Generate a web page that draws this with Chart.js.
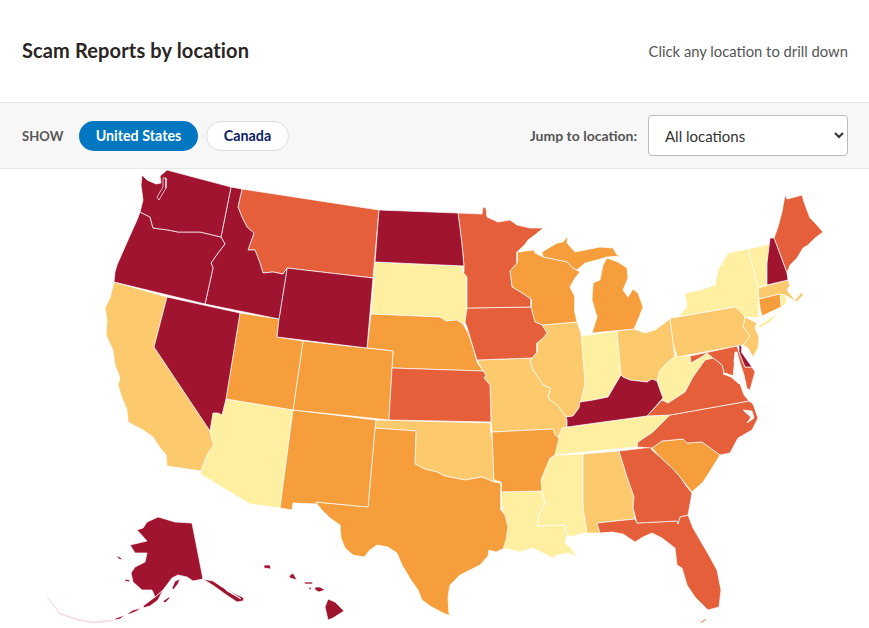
<!DOCTYPE html>
<html>
<head>
<meta charset="utf-8">
<title>Scam Reports by location</title>
<script src="https://cdn.jsdelivr.net/npm/chart.js@4"></script>
<style>
html, body { margin: 0; padding: 0; background: #fff; overflow: hidden; }
body { width: 869px; height: 628px; position: relative; font-family: Lato, "Open Sans", sans-serif; }
.title { position: absolute; left: 22px; top: 38px; font-size: 20px; line-height: 24px; font-weight: 700; letter-spacing: .13px; color: #2b2523; }
.hint { position: absolute; right: 21px; top: 41px; font-size: 14.8px; line-height: 20px; color: #555; }
.band { position: absolute; left: 0; top: 102px; width: 869px; height: 65px; background: #f7f7f7; border-top: 1px solid #e8e8e8; border-bottom: 1px solid #e8e8e8; }
.show { position: absolute; left: 22px; top: 128px; font-size: 13px; line-height: 16px; font-weight: 700; color: #555; letter-spacing: .1px; }
.pill { position: absolute; top: 121px; height: 30px; line-height: 30px; border-radius: 15px; text-align: center; font-size: 14.3px; font-weight: 700; box-sizing: border-box; }
.pill.us { left: 79px; width: 119px; background: #0077c0; color: #fff; }
.pill.ca { left: 206px; width: 83px; background: #fff; color: #0b2265; border: 1px solid #ddd; line-height: 28px; }
.jump { position: absolute; right: 232px; top: 128px; font-size: 14px; line-height: 16px; font-weight: 700; color: #555; }
select { position: absolute; left: 648px; top: 115px; width: 200px; height: 41px; padding-left: 12px; font-family: inherit; font-size: 15px; color: #333; background: #fff; border: 1px solid #bbb; border-radius: 4px; }
#mapBox { position: absolute; left: 0; top: 169px; width: 869px; height: 459px; }
</style>
</head>
<body>
<div class="title">Scam Reports by location</div>
<div class="hint">Click any location to drill down</div>
<div class="band"></div>
<div class="show">SHOW</div>
<div class="pill us">United States</div>
<div class="pill ca">Canada</div>
<div class="jump">Jump to location:</div>
<select><option>All locations</option></select>
<div id="mapBox"><canvas id="map"></canvas></div>
<script>
// outlines, in map units
const WA = [[142,175],[147,180],[156,184],[161,183],[160,176],[167,170],[231,187],[221,237],[200,232],[178,232],[168,230],[153,228],[150,217],[140,212],[143,200],[141,185]];
const WAsound = [[157,197],[163,187],[163,178],[166,178],[166,188],[159,200]];
const OR = [[140,212],[150,217],[153,228],[168,230],[178,232],[200,232],[221,237],[225,244],[218,253],[211,263],[213,268],[205,304],[114,282],[115,272],[117,265],[128,240],[137,220]];
const ID = [[231,187],[242,189],[238,207],[242,217],[247,227],[254,233],[248,250],[255,250],[260,263],[263,273],[273,272],[283,274],[285,271],[287,269],[279,319],[205,304],[213,268],[211,263],[218,253],[225,244],[221,237]];
const MT = [[242,189],[379,210],[373,278],[287,268],[285,271],[283,274],[273,272],[263,273],[260,263],[255,250],[248,250],[254,233],[247,227],[242,217],[238,207]];
const WY = [[287,268],[373,278],[367,348],[277,337],[279,319]];
const NV = [[167,297],[240,313],[226,399],[222,415],[218,413],[213,413],[210,431],[154,347]];
const CA = [[114,282],[167,297],[154,347],[210,431],[212,440],[214,445],[208,453],[203,465],[201,471],[167,466],[166,455],[158,445],[153,437],[143,430],[128,422],[127,410],[122,398],[118,385],[120,378],[115,365],[113,350],[106,335],[107,320],[105,308],[110,298]];
const AZ = [[226,399],[293,410],[280,508],[250,504],[200,474],[201,471],[203,465],[208,453],[214,445],[212,440],[210,431],[213,413],[218,413],[222,415]];
const UT = [[240,313],[279,319],[277,337],[303,341],[293,410],[226,399]];
const CO = [[303,341],[393,351],[389,420],[293,410]];
const NM = [[293,410],[376,420],[375,428],[368,507],[316,502],[317,504],[293,503],[292,510],[280,508]];
const TX = [[375,428],[416,431],[415,464],[425,469],[437,472],[445,476],[455,478],[465,480],[482,477],[494,482],[501,483],[501,510],[505,515],[508,527],[506,540],[503,549],[496,552],[489,550],[488,556],[480,565],[460,575],[450,585],[448,597],[449,614],[452,616],[445,614],[430,606],[422,600],[418,590],[411,580],[402,565],[397,553],[388,547],[377,545],[370,550],[364,557],[353,555],[345,548],[341,538],[340,525],[330,518],[322,510],[317,504],[316,502],[368,507]];
const OK = [[376,420],[491,423],[491,432],[493,445],[494,482],[482,477],[465,480],[455,478],[445,476],[437,472],[425,469],[415,464],[416,431],[375,428]];
const KS = [[392,368],[483,371],[486,375],[484,378],[490,385],[491,422],[389,420]];
const NE = [[371,314],[440,317],[446,321],[457,320],[463,324],[468,333],[473,347],[477,362],[483,371],[392,368],[393,351],[367,348]];
const SD = [[375,262],[464,266],[463,272],[467,277],[467,308],[465,322],[463,324],[457,320],[446,321],[440,317],[371,314]];
const ND = [[379,210],[458,213],[460,228],[462,245],[464,266],[375,262]];
const MN = [[458,213],[482,214],[483,207],[486,208],[487,217],[498,222],[510,220],[517,225],[530,228],[543,228],[532,238],[517,252],[517,263],[510,271],[512,287],[522,293],[531,299],[531,307],[467,308],[467,277],[463,272],[464,266],[462,245],[460,228]];
const IA = [[467,308],[531,307],[533,315],[535,322],[542,325],[547,333],[543,338],[537,343],[537,352],[532,358],[477,360],[473,347],[467,327],[465,322]];
const WI = [[517,252],[534,250],[535,253],[543,257],[567,262],[573,268],[580,272],[575,278],[570,287],[575,297],[575,313],[577,322],[542,325],[535,322],[533,315],[531,307],[531,299],[522,293],[512,287],[510,271],[517,263]];
const MIupper = [[542,252],[557,243],[563,242],[568,236],[567,243],[575,252],[600,247],[613,248],[617,255],[622,256],[607,257],[597,260],[585,263],[577,270],[573,268],[567,262],[543,257]];
const MIlower = [[607,258],[618,262],[627,268],[628,278],[623,290],[628,297],[633,289],[638,293],[643,307],[640,315],[634,329],[592,333],[597,317],[592,300],[593,283],[600,280],[603,265]];
const IL = [[542,325],[577,322],[581,333],[585,383],[582,397],[579,408],[573,416],[566,417],[557,405],[548,398],[550,388],[543,385],[533,370],[530,362],[532,358],[537,352],[537,343],[543,338],[547,333]];
const IN = [[581,336],[617,331],[621,375],[615,385],[608,397],[593,400],[580,402],[582,397],[585,383]];
const OH = [[617,331],[634,329],[645,333],[655,330],[670,319],[673,343],[675,356],[668,362],[660,370],[657,381],[647,382],[630,380],[623,377],[621,375]];
const KY = [[621,375],[623,377],[630,380],[647,382],[652,379],[657,381],[660,390],[663,398],[647,416],[567,427],[567,420],[566,417],[573,416],[579,408],[580,402],[593,400],[608,397],[615,385]];
const WV = [[670,319],[673,343],[675,356],[690,356],[691,363],[703,356],[707,353],[713,358],[705,360],[693,377],[685,392],[668,403],[662,400],[663,398],[657,381],[660,370],[668,362],[675,356]];
const PA = [[670,318],[678,317],[735,307],[742,313],[745,317],[743,327],[750,336],[743,345],[677,357],[673,343]];
const NY = [[678,317],[687,307],[685,293],[700,290],[715,285],[718,270],[728,253],[748,249],[758,287],[759,318],[745,317],[735,307]];
const NYisland = [[758,326],[778,313],[770,322],[760,328]];
const NJ = [[745,317],[757,323],[755,328],[759,337],[758,348],[753,357],[748,348],[743,345],[750,336],[743,327]];
const VT = [[748,249],[770,244],[767,263],[767,285],[758,288]];
const NH = [[770,238],[774,238],[787,273],[788,280],[767,285],[767,263]];
const ME = [[785,195],[787,199],[795,197],[802,195],[804,202],[810,218],[815,223],[823,232],[815,238],[808,245],[803,248],[797,258],[790,265],[787,273],[774,238],[778,227],[782,212]];
const MA = [[758,288],[788,280],[790,285],[787,290],[795,300],[802,292],[803,295],[797,302],[785,295],[780,294],[759,299]];
const CT = [[759,299],[780,294],[781,307],[762,316],[760,308]];
const RI = [[780,294],[785,295],[787,303],[781,307]];
const DE = [[739,344],[742,347],[742,353],[752,367],[745,367],[739,352]];
const MD = [[690,356],[737,346],[739,352],[745,367],[752,367],[755,372],[750,390],[746,388],[741,372],[735,358],[733,376],[724,373],[722,365],[713,358],[707,353],[703,356],[691,363]];
const VA = [[647,416],[662,400],[668,403],[685,392],[693,377],[705,360],[713,358],[722,365],[724,373],[733,376],[740,384],[744,395],[749,401],[670,415]];
const NC = [[670,415],[749,401],[753,404],[758,418],[752,430],[738,438],[730,453],[720,455],[702,442],[687,443],[683,439],[662,441],[652,448],[637,447],[638,442],[653,432]];
const TN = [[567,427],[647,416],[670,415],[653,432],[638,442],[637,447],[555,455],[558,438],[562,428]];
const GA = [[619,451],[652,447],[652,450],[660,457],[672,468],[680,477],[687,487],[692,493],[688,515],[680,517],[678,524],[677,521],[637,523],[633,508],[634,497],[627,477]];
const SC = [[652,448],[662,441],[683,439],[687,443],[702,442],[720,455],[712,468],[703,482],[692,492],[680,477],[672,468],[660,457]];
const AL = [[583,454],[619,451],[627,477],[634,497],[633,508],[635,519],[597,523],[600,533],[590,533],[587,533],[583,507]];
const MS = [[555,455],[583,454],[583,507],[587,533],[580,534],[570,537],[567,535],[565,525],[537,526],[540,513],[545,503],[542,491],[541,480],[545,470],[550,458]];
const LA = [[500,492],[542,491],[545,503],[540,513],[537,526],[565,525],[567,535],[565,543],[570,547],[577,557],[568,553],[558,555],[552,558],[543,553],[532,548],[520,552],[507,549],[503,548],[507,533],[507,525],[503,512],[501,502]];
const AR = [[492,432],[553,429],[555,435],[559,438],[555,455],[550,458],[545,470],[541,480],[542,491],[500,492],[501,482],[494,480]];
const MO = [[477,360],[532,358],[530,362],[533,370],[543,385],[550,388],[548,398],[557,405],[566,417],[567,420],[567,427],[562,428],[558,438],[555,435],[553,429],[492,432],[491,422],[490,385],[484,378],[486,375],[483,371]];
const FL = [[597,523],[635,519],[637,523],[677,521],[678,524],[680,517],[688,515],[693,528],[707,552],[717,570],[721,590],[719,607],[708,610],[695,597],[687,585],[682,568],[677,565],[675,548],[662,538],[652,533],[643,537],[635,542],[623,534],[612,532],[600,533]];
const FLkeys = [[700,622],[707,618],[705,621],[701,623]];
const AKmain = [[192,523],[203,579],[193,581],[187,577],[178,575],[172,578],[163,590],[155,597],[152,590],[142,590],[133,582],[131,573],[135,567],[145,562],[147,553],[135,553],[130,545],[147,541],[137,530],[143,528],[147,522],[158,517],[165,519],[175,522]];
const AKkenai = [[172,588],[175,581],[180,579],[178,584],[173,590]];
const AKkodiak = [[163,601],[169,597],[170,598],[165,603]];
const AKpeninsula = [[163,590],[155,597],[143,606],[143,608],[150,606],[158,600]];
const AKchain1 = [[141,608],[133,610],[127,614],[130,614],[137,611]];
const AKchain2 = [[125,615],[116,618],[114,620],[120,619]];
const AKpanhandle = [[203,579],[213,581],[222,587],[232,592],[244,598],[243,601],[237,602],[225,594],[214,586]];
const AKisland = [[116,556],[120,557],[123,560],[119,559]];
const AKisland2 = [[125,579],[130,580],[129,582],[125,581]];
const aleutianFaint = [[47,597],[60,613],[77,619],[93,622],[112,620],[112,621],[93,623],[77,620],[60,614]];
const HIbig = [[328,599],[335,602],[344,611],[333,618],[328,620],[325,607]];
const HImaui = [[315,587],[320,587],[325,590],[319,592],[315,590]];
const HImolokai = [[304,582],[313,582],[313,584],[305,584]];
const HIlanai = [[308,587],[312,588],[310,590]];
const HIoahu = [[293,573],[297,580],[290,578],[289,576]];
const HIkauai = [[264,565],[270,565],[271,569],[264,568]];

const chesapeakeBay = [[735,352],[734,362],[737,370],[741,380],[745,392],[747,389],[744,375],[740,363],[737,352]];
const potomac = [[724,373],[733,376],[740,383],[739,384],[731,377],[723,374]];
const pamlico = [[743,410],[752,411],[754,418],[747,423],[751,417],[745,412]];
const panhandleChannel = [[219,581],[228,590],[240,598],[241,599],[227,591],[218,582]];
const lakeWedge = [[551,223],[528,240],[520,252],[533,248],[542,238]];

const darkStates = ['WA', 'OR', 'ID', 'NV', 'WY', 'ND', 'KY', 'NH', 'DE', 'AK', 'HI'];
const redStates = ['MT', 'MN', 'IA', 'KS', 'ME', 'VA', 'NC', 'GA', 'FL', 'MD'];
const orangeStates = ['UT', 'CO', 'NM', 'TX', 'NE', 'WI', 'MI', 'AR', 'SC', 'CT'];
const lightStates = ['CA', 'OK', 'MO', 'IL', 'OH', 'PA', 'AL', 'NJ', 'MA'];
const paleStates = ['AZ', 'SD', 'IN', 'WV', 'TN', 'MS', 'LA', 'NY', 'VT', 'RI'];

const stateShapes = {
    WA: [WAsound, WA], OR: [OR], ID: [ID], MT: [MT], WY: [WY], NV: [NV], CA: [CA], AZ: [AZ], UT: [UT], CO: [CO],
    NM: [NM], TX: [TX], OK: [OK], KS: [KS], NE: [NE], SD: [SD], ND: [ND], MN: [MN], IA: [IA], WI: [WI],
    MI: [MIupper, MIlower], IL: [IL], IN: [IN], OH: [OH], KY: [KY], WV: [WV], PA: [PA], NY: [NY, NYisland],
    NJ: [NJ], VT: [VT], NH: [NH], ME: [ME], MA: [MA], CT: [CT], RI: [RI], DE: [DE], MD: [MD], VA: [VA],
    NC: [NC], TN: [TN], GA: [GA], SC: [SC], AL: [AL], MS: [MS], LA: [LA], AR: [AR], MO: [MO], FL: [FL, FLkeys],
    AK: [AKmain, AKkenai, AKkodiak, AKpeninsula, AKchain1, AKchain2, AKpanhandle, AKisland, AKisland2],
    HI: [HIbig, HImaui, HImolokai, HIlanai, HIoahu, HIkauai]
};
const waterShapes = [chesapeakeBay, potomac, pamlico, panhandleChannel, lakeWedge];

function shapeDataset(label, outline, color, edge) {
    const pts = outline.concat([outline[0]]).map(function (p) { return { x: p[0], y: p[1] }; });
    return {
        label: label,
        data: pts,
        showLine: true,
        fill: 'shape',
        tension: 0,
        pointRadius: 0,
        pointHitRadius: 0,
        backgroundColor: color,
        borderColor: edge,
        borderWidth: 0.7
    };
}

const datasets = [];
waterShapes.forEach(function (w) {
    datasets.push(shapeDataset('water', w, '#fff', '#fff'));
});
[[darkStates, '#a01430'], [redStates, '#e45f3a'], [orangeStates, '#f69e3c'], [lightStates, '#fcc96c'], [paleStates, '#ffefa0']].forEach(function (group) {
    group[0].forEach(function (st) {
        stateShapes[st].forEach(function (outline) {
            datasets.push(shapeDataset(st, outline, group[1], '#fff'));
        });
    });
});
datasets.push(shapeDataset('AK', aleutianFaint, '#f3dade', '#f3dade'));

new Chart(document.getElementById('map'), {
    type: 'scatter',
    data: { datasets: datasets },
    options: {
        responsive: true,
        maintainAspectRatio: false,
        animation: false,
        layout: { padding: 0 },
        plugins: { legend: { display: false }, title: { display: false }, tooltip: { enabled: false } },
        scales: {
            x: { type: 'linear', min: 0, max: 869, display: false },
            y: { type: 'linear', min: 169, max: 628, reverse: true, display: false }
        }
    }
});
</script>
</body>
</html>
